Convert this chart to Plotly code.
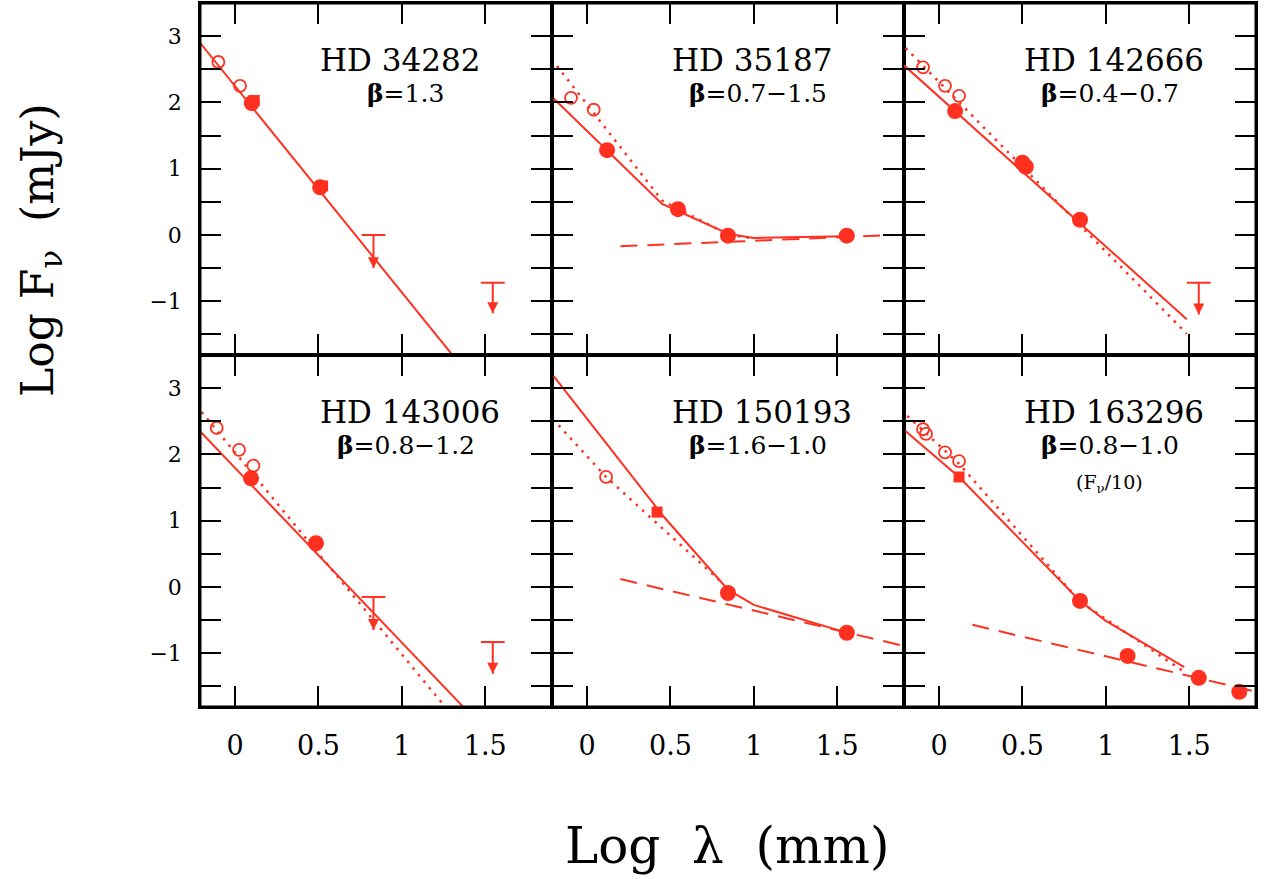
import plotly.graph_objects as go
from plotly.subplots import make_subplots

red = "#ff3020"

# HD 34282
p1_name = "HD 34282"
p1_beta = "1.3"
p1_open_x = [-0.10, 0.03]
p1_open_y = [2.61, 2.25]
p1_fill_x = [0.10, 0.51]
p1_fill_y = [1.99, 0.72]
p1_sq_x = [0.115, 0.525]
p1_sq_y = [2.03, 0.74]
p1_lim_x = [0.83, 1.545]
p1_lim_top = [0.0, -0.72]
p1_lim_tip = [-0.50, -1.18]
p1_solid_x = [-0.21, 1.30]
p1_solid_y = [2.90, -1.80]
p1_dot_x = []
p1_dot_y = []
p1_dash_x = []
p1_dash_y = []

# HD 35187
p2_name = "HD 35187"
p2_beta = "0.7−1.5"
p2_open_x = [-0.096, 0.04]
p2_open_y = [2.07, 1.89]
p2_fill_x = [0.12, 0.545, 0.845, 1.557]
p2_fill_y = [1.28, 0.39, -0.01, -0.01]
p2_sq_x = []
p2_sq_y = []
p2_lim_x = []
p2_lim_top = []
p2_lim_tip = []
p2_solid_x = [-0.20, 0.12, 0.45, 0.85, 1.0, 1.557]
p2_solid_y = [2.06, 1.28, 0.47, 0.015, -0.045, -0.02]
p2_dot_x = [-0.18, 0.45, 0.85, 1.0]
p2_dot_y = [2.55, 0.52, 0.0, -0.05]
p2_dash_x = [0.20, 1.84]
p2_dash_y = [-0.17, 0.0]

# HD 142666
p3_name = "HD 142666"
p3_beta = "0.4−0.7"
p3_open_x = [-0.096, 0.036, 0.12]
p3_open_y = [2.53, 2.25, 2.10]
p3_fill_x = [0.096, 0.50, 0.52, 0.845]
p3_fill_y = [1.87, 1.09, 1.03, 0.23]
p3_sq_x = []
p3_sq_y = []
p3_lim_x = [1.557]
p3_lim_top = [-0.72]
p3_lim_tip = [-1.20]
p3_solid_x = [-0.21, 1.485]
p3_solid_y = [2.56, -1.27]
p3_dot_x = [-0.20, 1.485]
p3_dot_y = [2.82, -1.49]
p3_dash_x = []
p3_dash_y = []

# HD 143006
p4_name = "HD 143006"
p4_beta = "0.8−1.2"
p4_open_x = [-0.11, 0.024, 0.11]
p4_open_y = [2.40, 2.07, 1.83]
p4_fill_x = [0.096, 0.485]
p4_fill_y = [1.64, 0.66]
p4_sq_x = []
p4_sq_y = []
p4_lim_x = [0.83, 1.545]
p4_lim_top = [-0.15, -0.83]
p4_lim_tip = [-0.65, -1.31]
p4_solid_x = [-0.21, 1.365]
p4_solid_y = [2.35, -1.80]
p4_dot_x = [-0.20, 1.257]
p4_dot_y = [2.64, -1.80]
p4_dash_x = []
p4_dash_y = []

# HD 150193
p5_name = "HD 150193"
p5_beta = "1.6−1.0"
p5_open_x = [0.114]
p5_open_y = [1.66]
p5_fill_x = [0.845, 1.557]
p5_fill_y = [-0.09, -0.69]
p5_sq_x = [0.42]
p5_sq_y = [1.13]
p5_lim_x = []
p5_lim_top = []
p5_lim_tip = []
p5_solid_x = [-0.20, 0.46, 0.845, 1.0, 1.545]
p5_solid_y = [3.18, 1.06, -0.04, -0.27, -0.68]
p5_dot_x = [-0.17, 0.114, 0.82]
p5_dot_y = [2.44, 1.66, 0.04]
p5_dash_x = [0.20, 1.90]
p5_dash_y = [0.12, -0.89]

# HD 163296
p6_name = "HD 163296"
p6_beta = "0.8−1.0"
p6_open_x = [-0.096, -0.078, 0.036, 0.12]
p6_open_y = [2.38, 2.31, 2.03, 1.90]
p6_fill_x = [0.845, 1.13, 1.557, 1.80]
p6_fill_y = [-0.21, -1.04, -1.37, -1.58]
p6_sq_x = [0.12]
p6_sq_y = [1.66]
p6_lim_x = []
p6_lim_top = []
p6_lim_tip = []
p6_solid_x = [-0.20, 0.12, 0.845, 1.0, 1.47]
p6_solid_y = [2.35, 1.66, -0.21, -0.51, -1.21]
p6_dot_x = [-0.19, 0.12, 0.845, 1.47]
p6_dot_y = [2.58, 1.86, -0.22, -1.28]
p6_dash_x = [0.20, 1.90]
p6_dash_y = [-0.57, -1.58]

x_ticks = [0, 0.5, 1, 1.5]
x_ticktext = ["0", "0.5", "1", "1.5"]
y_ticks = [-1, 0, 1, 2, 3]
y_ticktext = ["−1", "0", "1", "2", "3"]
y_minor = [-1.5, -0.5, 0.5, 1.5, 2.5]

panels = [
    (1, 1, p1_name, p1_beta, p1_open_x, p1_open_y, p1_fill_x, p1_fill_y, p1_sq_x, p1_sq_y,
     p1_lim_x, p1_lim_top, p1_lim_tip, p1_solid_x, p1_solid_y, p1_dot_x, p1_dot_y, p1_dash_x, p1_dash_y),
    (1, 2, p2_name, p2_beta, p2_open_x, p2_open_y, p2_fill_x, p2_fill_y, p2_sq_x, p2_sq_y,
     p2_lim_x, p2_lim_top, p2_lim_tip, p2_solid_x, p2_solid_y, p2_dot_x, p2_dot_y, p2_dash_x, p2_dash_y),
    (1, 3, p3_name, p3_beta, p3_open_x, p3_open_y, p3_fill_x, p3_fill_y, p3_sq_x, p3_sq_y,
     p3_lim_x, p3_lim_top, p3_lim_tip, p3_solid_x, p3_solid_y, p3_dot_x, p3_dot_y, p3_dash_x, p3_dash_y),
    (2, 1, p4_name, p4_beta, p4_open_x, p4_open_y, p4_fill_x, p4_fill_y, p4_sq_x, p4_sq_y,
     p4_lim_x, p4_lim_top, p4_lim_tip, p4_solid_x, p4_solid_y, p4_dot_x, p4_dot_y, p4_dash_x, p4_dash_y),
    (2, 2, p5_name, p5_beta, p5_open_x, p5_open_y, p5_fill_x, p5_fill_y, p5_sq_x, p5_sq_y,
     p5_lim_x, p5_lim_top, p5_lim_tip, p5_solid_x, p5_solid_y, p5_dot_x, p5_dot_y, p5_dash_x, p5_dash_y),
    (2, 3, p6_name, p6_beta, p6_open_x, p6_open_y, p6_fill_x, p6_fill_y, p6_sq_x, p6_sq_y,
     p6_lim_x, p6_lim_top, p6_lim_tip, p6_solid_x, p6_solid_y, p6_dot_x, p6_dot_y, p6_dash_x, p6_dash_y),
]

fig = make_subplots(rows=2, cols=3, horizontal_spacing=0, vertical_spacing=0)

for (r, c, name, beta, ox, oy, fx, fy, sx, sy, lx, ltop, ltip,
     solx, soly, dotx, doty, dashx, dashy) in panels:
    # model lines
    fig.add_trace(go.Scatter(x=solx, y=soly, mode="lines",
                             line=dict(color=red, width=2)), row=r, col=c)
    if dotx:
        fig.add_trace(go.Scatter(x=dotx, y=doty, mode="lines",
                                 line=dict(color=red, width=2.5, dash="2.5px,6px")), row=r, col=c)
    if dashx:
        fig.add_trace(go.Scatter(x=dashx, y=dashy, mode="lines",
                                 line=dict(color=red, width=2, dash="17px,10px")), row=r, col=c)
    # upper limits
    for x0, yt, yb in zip(lx, ltop, ltip):
        fig.add_trace(go.Scatter(x=[x0, x0], y=[yt, yb], mode="lines",
                                 line=dict(color=red, width=2)), row=r, col=c)
        fig.add_trace(go.Scatter(x=[x0], y=[yt], mode="markers",
                                 marker=dict(symbol="line-ew", size=17,
                                             line=dict(color=red, width=2))), row=r, col=c)
        fig.add_trace(go.Scatter(x=[x0], y=[yb], mode="markers",
                                 marker=dict(symbol="arrow-down", size=11, color=red,
                                             line=dict(width=0))), row=r, col=c)
    # data points
    if sx:
        fig.add_trace(go.Scatter(x=sx, y=sy, mode="markers",
                                 marker=dict(symbol="square", size=11, color=red,
                                             line=dict(width=0))), row=r, col=c)
    fig.add_trace(go.Scatter(x=fx, y=fy, mode="markers",
                             marker=dict(symbol="circle", size=16, color=red,
                                         line=dict(width=0))), row=r, col=c)
    fig.add_trace(go.Scatter(x=ox, y=oy, mode="markers",
                             marker=dict(symbol="circle-open", size=12, color=red,
                                         line=dict(color=red, width=1.8))), row=r, col=c)

    n = (r - 1) * 3 + c
    xref = "x domain" if n == 1 else "x%d domain" % n
    yref = "y domain" if n == 1 else "y%d domain" % n
    fig.add_annotation(x=0.335, y=0.838, xref=xref, yref=yref, text=name,
                       showarrow=False, xanchor="left", yanchor="middle",
                       font=dict(family="DejaVu Serif", size=31, color="black"))
    fig.add_annotation(x=0.585, y=0.742, xref=xref, yref=yref,
                       text="<b>β</b>=" + beta,
                       showarrow=False, xanchor="center", yanchor="middle",
                       font=dict(family="DejaVu Serif", size=25, color="black"))
    if n == 6:
        fig.add_annotation(x=0.585, y=0.636, xref=xref, yref=yref,
                           text="(F<sub>ν</sub>/10)",
                           showarrow=False, xanchor="center", yanchor="middle",
                           font=dict(family="DejaVu Serif", size=19, color="black"))

fig.update_xaxes(range=[-0.21, 1.90], tickvals=x_ticks, ticktext=x_ticktext,
                 showline=True, linewidth=1.5, linecolor="black", mirror="allticks",
                 ticks="inside", ticklen=21, tickwidth=2, tickcolor="black",
                 showgrid=False, zeroline=False, showticklabels=False,
                 tickfont=dict(family="DejaVu Serif", size=27, color="black"))
fig.update_yaxes(range=[-1.81, 3.50], tickvals=y_ticks, ticktext=y_ticktext,
                 minor=dict(tickvals=y_minor, ticks="inside", ticklen=21, tickwidth=2,
                            tickcolor="black", showgrid=False),
                 showline=True, linewidth=1.5, linecolor="black", mirror="allticks",
                 ticks="inside", ticklen=21, tickwidth=2, tickcolor="black",
                 showgrid=False, zeroline=False, showticklabels=False,
                 tickfont=dict(family="DejaVu Serif", size=22, color="black"))
for c in range(1, 4):
    fig.update_xaxes(showticklabels=True, ticklabelstandoff=14, row=2, col=c)
for r in range(1, 3):
    fig.update_yaxes(showticklabels=True, ticklabelstandoff=12, row=r, col=1)

# outer frame
fig.add_shape(type="rect", xref="paper", yref="paper", x0=0, x1=1, y0=0, y1=1,
              line=dict(color="black", width=3))

plot_w = 1268 - 200 - 12
plot_h = 879 - 3 - 172

# axis titles, placed by pixel position
fig.add_annotation(x=(40 - 200) / plot_w, y=(879 - 172 - 250) / plot_h,
                   xref="paper", yref="paper", text="Log F<sub>ν</sub>  (mJy)",
                   showarrow=False, textangle=-90, xanchor="center", yanchor="middle",
                   font=dict(family="DejaVu Serif", size=44, color="black"))
fig.add_annotation(x=(727 - 200) / plot_w, y=(879 - 172 - 846) / plot_h,
                   xref="paper", yref="paper", text="Log  λ  (mm)",
                   showarrow=False, xanchor="center", yanchor="middle",
                   font=dict(family="DejaVu Serif", size=50, color="black"))

fig.update_layout(width=1268, height=879, showlegend=False,
                  plot_bgcolor="white", paper_bgcolor="white",
                  margin=dict(l=200, r=12, t=3, b=172, autoexpand=False))

fig.write_html("out.html", config={"displayModeBar": False},
               post_script="document.body.style.margin='0px';")
